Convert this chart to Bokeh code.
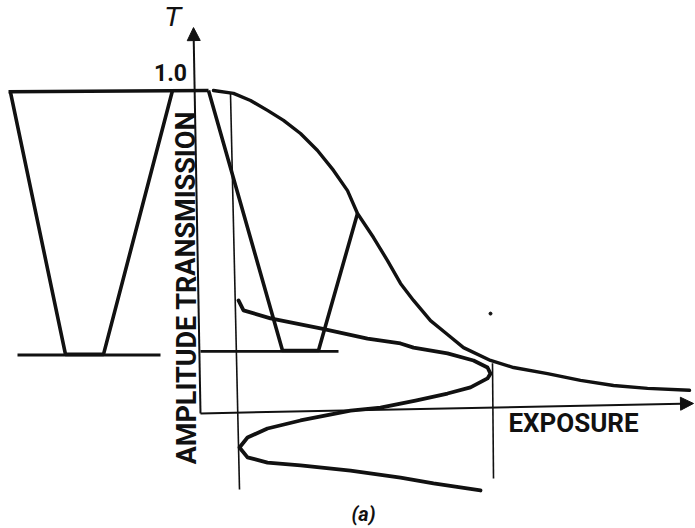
from bokeh.plotting import figure
from bokeh.models import Range1d, Arrow, NormalHead
from bokeh.core.properties import value
from bokeh.embed import file_html
from bokeh.resources import INLINE

INK = "#111111"

# Characteristic curve: amplitude transmission T versus exposure E (arbitrary units)
curve_E = [13, 33, 50, 67, 83, 100, 117, 133, 147, 157, 173, 187, 200, 213, 230, 247,
           263, 290, 313, 347, 380, 413, 447, 489]
curve_T = [1.000, 0.991, 0.969, 0.938, 0.907, 0.866, 0.813, 0.751, 0.688, 0.617, 0.542,
           0.470, 0.399, 0.346, 0.283, 0.240, 0.199, 0.159, 0.137, 0.118, 0.097, 0.081,
           0.072, 0.066]

# Exposure waveform (time runs downward)
wave_E = [38, 43, 70, 120, 167, 200, 213, 247, 273, 287, 290, 287, 270, 247, 215, 180,
          150, 100, 67, 47, 39, 47, 67, 100, 150, 200, 233, 280]
wave_T = [0.346, 0.315, 0.290, 0.259, 0.227, 0.212, 0.199, 0.181, 0.159, 0.137, 0.118,
          0.103, 0.075, 0.056, 0.034, 0.012, 0.003, -0.028, -0.053, -0.081, -0.112,
          -0.143, -0.159, -0.168, -0.184, -0.206, -0.224, -0.246]

# Output transmission waveform (left trapezoid)
out_E = [-190, -135, -97, -28]
out_T = [0.994, 0.178, 0.178, 1.000]

# Mapping trapezoid between curve and levels
map_E = [8, 82, 118, 157]
map_T = [1.000, 0.190, 0.190, 0.617]

# Level lines
top_E = [-192, 8]
top_T = [0.996, 1.000]
low_left_E = [-183, -40]
low_left_T = [0.176, 0.176]
low_right_E = [0, 138]
low_right_T = [0.187, 0.187]

# Bias and maximum exposure markers
bias_E = [30, 39]
bias_T = [0.991, -0.243]
emax_E = [292, 293]
emax_T = [0.150, -0.209]

# Axes (start and tip)
t_axis = (0, -0.006, -7, 1.196)
e_axis = (0, -0.006, 493, 0.025)

labels_text = ["T", "1.0", "AMPLITUDE TRANSMISSION", "EXPOSURE", "(a)"]
labels_E = [-28, -30, -14, 373, 163]
labels_T = [1.231, 1.056, 0.386, -0.037, -0.318]

p = figure(width=695, height=528, x_range=Range1d(-200, 495),
           y_range=Range1d(-0.3645, 1.2804), output_backend="svg",
           toolbar_location=None, min_border=0,
           x_axis_location=None, y_axis_location=None)
p.grid.visible = False
p.outline_line_color = None
p.background_fill_color = "white"
p.border_fill_color = "white"

# thin marker lines
p.line(bias_E, bias_T, line_color=INK, line_width=1.6)
p.line(emax_E, emax_T, line_color=INK, line_width=1.6)

# level lines
p.line(top_E, top_T, line_color=INK, line_width=3.4)
p.line(low_left_E, low_left_T, line_color=INK, line_width=2.8)
p.line(low_right_E, low_right_T, line_color=INK, line_width=2.8)

# trapezoids
p.line(out_E, out_T, line_color=INK, line_width=3.6, line_join="round")
p.line(map_E, map_T, line_color=INK, line_width=3.6, line_join="round")

# curves
p.line(curve_E, curve_T, line_color=INK, line_width=3.4, line_join="round", line_cap="round")
p.line(wave_E, wave_T, line_color=INK, line_width=3.8, line_join="round", line_cap="round")

# stray dot
p.scatter([290], [0.305], size=3, color=INK)

# axes with arrows
for (x0, y0, x1, y1) in (t_axis, e_axis):
    p.add_layout(Arrow(x_start=x0, y_start=y0, x_end=x1, y_end=y1,
                       line_color=INK, line_width=2,
                       end=NormalHead(size=13, fill_color=INK, line_color=INK)))

# texts
p.text(x=[labels_E[0]], y=[labels_T[0]], text=[labels_text[0]],
       text_font=value("Liberation Sans"), text_font_style="italic",
       text_font_size="28px", text_color=INK, text_align="center", text_baseline="middle")
p.text(x=[labels_E[1]], y=[labels_T[1]], text=[labels_text[1]],
       text_font=value("Roboto"), text_font_style="bold",
       text_font_size="23px", text_color=INK, text_align="center", text_baseline="middle")
p.text(x=[labels_E[2]], y=[labels_T[2]], text=[labels_text[2]],
       text_font=value("Roboto"), text_font_style="bold", angle=1.5708,
       text_font_size="27px", text_color=INK, text_align="center", text_baseline="middle")
p.text(x=[labels_E[3]], y=[labels_T[3]], text=[labels_text[3]],
       text_font=value("Roboto"), text_font_style="bold",
       text_font_size="26px", text_color=INK, text_align="center", text_baseline="middle")
p.text(x=[labels_E[4]], y=[labels_T[4]], text=[labels_text[4]],
       text_font=value("Roboto"), text_font_style="bold italic",
       text_font_size="20px", text_color=INK, text_align="center", text_baseline="middle")

open("out.html", "w").write(file_html(p, INLINE))
